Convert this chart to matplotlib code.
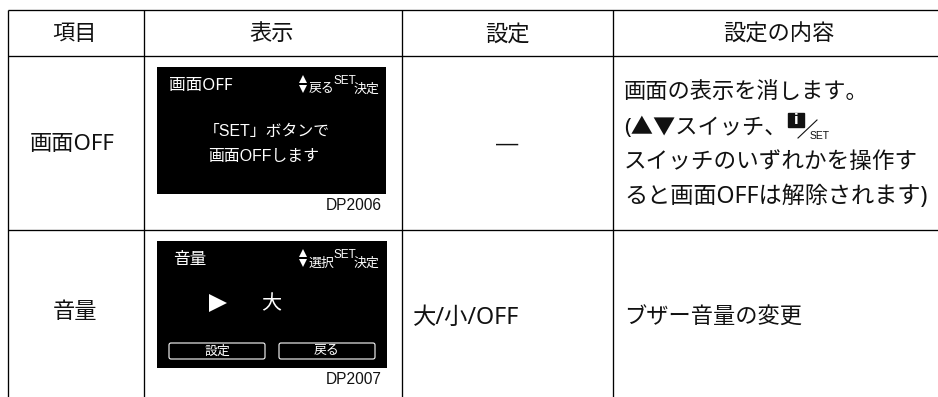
import matplotlib
matplotlib.use('Agg')
import matplotlib.pyplot as plt
from matplotlib.patches import Rectangle, FancyBboxPatch

# Noto Sans first for the wider latin letters, CJK family for the rest
plt.rcParams['font.family'] = ['Noto Sans', 'Noto Sans CJK JP', 'DejaVu Sans']

# Table text
headers = ['項目', '表示', '設定', '設定の内容']
items = ['画面OFF', '音量']
settings = ['—', '大/小/OFF']
desc_off = ['画面の表示を消します。', '(▲▼スイッチ、', 'スイッチのいずれかを操作す', 'ると画面OFFは解除されます)']
desc_vol = 'ブザー音量の変更'

# Screen text
screen_titles = ['画面OFF', '音量']
screen_nav = ['戻る', '選択']
screen_msg = ['「SET」ボタンで', '画面OFFします']
screen_value = '大'
screen_buttons = ['設定', '戻る']
codes = ['DP2006', 'DP2007']

# Grid positions in pixels
col_x = [7.5, 143.5, 401.5, 612.5]
row_y = [9.5, 55.5, 229.5]
header_x = [75, 272, 507, 779]
row_mid = [141, 317]
screens = [(157, 67, 229, 127), (157, 241, 230, 127)]

fig = plt.figure(figsize=(9.38, 3.97), dpi=100)
ax = fig.add_axes([0, 0, 1, 1])
ax.set_xlim(0, 938)
ax.set_ylim(397, 0)
ax.axis('off')

# Table lines, open on the right and at the bottom
for x in col_x:
    ax.plot([x, x], [row_y[0], 397], color='black', lw=0.95, solid_capstyle='butt')
for y in row_y:
    ax.plot([col_x[0], 938], [y, y], color='black', lw=0.95, solid_capstyle='butt')

FS = 16
for x, h in zip(header_x, headers):
    ax.text(x, 35, h, fontsize=FS, ha='center', va='center', color='#111111')

ax.text(72, row_mid[0] + 3, items[0], fontsize=FS, ha='center', va='center', color='#111111')
ax.text(75, row_mid[1] - 5, items[1], fontsize=FS, ha='center', va='center', color='#111111')
ax.text(507, row_mid[0] + 3, settings[0], fontsize=FS, ha='center', va='center', color='#111111',
        family='Liberation Sans')
ax.text(413, row_mid[1] + 1, settings[1], fontsize=16.8, ha='left', va='center', color='#111111')

# lines 3 and 4 run a little wider in the reference
for y, line, fs in zip([93, 128, 162, 197], desc_off, [FS, FS, 16.25, 16.7]):
    ax.text(624, y, line, fontsize=fs, ha='left', va='center', color='#111111')
ax.text(624, row_mid[1] + 1, desc_vol, fontsize=FS, ha='left', va='center', color='#111111')

# i/SET switch icon inside the description
ax.add_patch(Rectangle((788, 113), 16, 14, color='#111111'))
ax.text(796, 120, 'i', fontsize=10, fontweight='bold', color='white', ha='center', va='center',
        family='DejaVu Sans')
ax.plot([798, 817], [138, 120], color='#111111', lw=0.8)
ax.text(810, 136, 'SET', fontsize=7.5, ha='left', va='center', family='Liberation Sans', color='#111111')

# Black screens
for (x, y, w, h), title, nav, code in zip(screens, screen_titles, screen_nav, codes):
    ax.add_patch(Rectangle((x, y), w, h, color='black', lw=0))
    title_x = 169 if title == screen_titles[0] else 173
    ax.text(title_x, y + 19, title, fontsize=12, color='white', ha='left', va='center')
    ax.plot([303], [y + 12], marker='^', ms=6, color='white', mew=0)
    ax.plot([303], [y + 22], marker='v', ms=6, color='white', mew=0)
    ax.text(309, y + 22, nav, fontsize=9.3, color='white', ha='left', va='center')
    ax.text(333, y + 14, 'SET', fontsize=8.5, color='white', ha='left', va='center', family='Liberation Sans')
    ax.text(354, y + 22, '決定', fontsize=9.3, color='white', ha='left', va='center')
    ax.text(382, y + h + 11, code, fontsize=11.2, color='#111111', ha='right', va='center',
            family='Liberation Sans')

ax.text(267, 131, screen_msg[0], fontsize=11.4, color='white', ha='center', va='center',
        family=['Liberation Sans', 'Noto Sans CJK JP'])
ax.text(264, 156, screen_msg[1], fontsize=11.4, color='white', ha='center', va='center',
        family=['Liberation Sans', 'Noto Sans CJK JP'])

ax.plot([218], [303], marker='>', ms=13, color='white', mew=0)
ax.text(271, 304, screen_value, fontsize=14.5, color='white', ha='center', va='center')

for x0, x1, label in zip([168, 278], [266, 376], screen_buttons):
    ax.add_patch(FancyBboxPatch((x0 + 1, 343), x1 - x0 - 2, 16, boxstyle='round,pad=0,rounding_size=2',
                                fc='black', ec='white', lw=0.8))
    ax.text((x0 + x1) / 2, 351, label, fontsize=9.3, color='white', ha='center', va='center')

fig.savefig('out.png', dpi=100, facecolor='white')
